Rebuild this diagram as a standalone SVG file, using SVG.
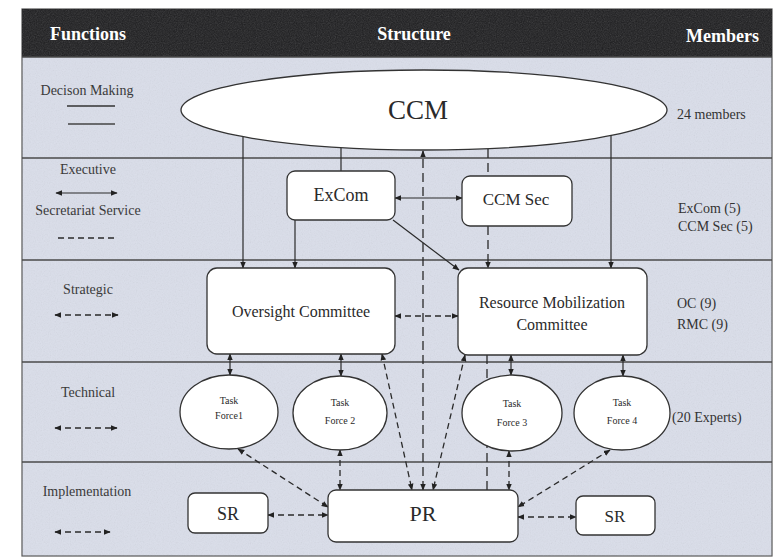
<svg xmlns="http://www.w3.org/2000/svg" width="776" height="558" viewBox="0 0 776 558">
<defs>
<style>
text{font-family:"Liberation Serif","Times New Roman",serif;fill:#2a2a2a}
.hd{font-weight:bold;font-size:18px;fill:#ffffff}
.fn{font-size:14px;text-anchor:middle;fill:#3a3a3a}
.mb{font-size:14px;fill:#333}
.lbl{text-anchor:middle}
.box{fill:#ffffff;stroke:#333;stroke-width:1.3}
.row{stroke:#4a4a4a;stroke-width:1.4;fill:none}
.sl{stroke:#2a2a2a;stroke-width:1.2;fill:none}
.dl{stroke:#2a2a2a;stroke-width:1.3;fill:none;stroke-dasharray:6 4}
.dlv{stroke:#2a2a2a;stroke-width:1.3;fill:none;stroke-dasharray:9 5}
</style>
<marker id="ah" viewBox="0 0 10 10" refX="9" refY="5" markerWidth="7" markerHeight="7" markerUnits="userSpaceOnUse" orient="auto-start-reverse">
<path d="M0,1 L10,5 L0,9 z" fill="#222"/>
</marker>
<filter id="grain" x="0" y="0" width="100%" height="100%">
<feTurbulence type="fractalNoise" baseFrequency="0.85" numOctaves="2" seed="5"/>
<feColorMatrix type="saturate" values="0"/>
</filter>
</defs>

<g id="background">
<rect x="22" y="9" width="750" height="547" fill="#dadeea" stroke="#555" stroke-width="1.2"/>
<rect x="22" y="57" width="750" height="499" filter="url(#grain)" opacity="0.14"/>
<rect x="22" y="9" width="750" height="48" fill="#1c1c1e"/>
<rect x="22" y="9" width="750" height="48" filter="url(#grain)" opacity="0.22"/>
<line class="row" x1="22" y1="57" x2="772" y2="57"/>
<line class="row" x1="22" y1="158" x2="772" y2="158"/>
<line class="row" x1="22" y1="260" x2="772" y2="260"/>
<line class="row" x1="22" y1="362" x2="772" y2="362"/>
<line class="row" x1="22" y1="462" x2="772" y2="462"/>
</g>

<g id="header">
<text class="hd" x="50" y="40">Functions</text>
<text class="hd" x="414" y="40" text-anchor="middle">Structure</text>
<text class="hd" x="759" y="42" text-anchor="end">Members</text>
</g>

<g id="functions-legend">
<text class="fn" x="87" y="95">Decison Making</text>
<line x1="67" y1="106" x2="115" y2="106" stroke="#333" stroke-width="1.6"/>
<line x1="68" y1="124" x2="115" y2="124" stroke="#444" stroke-width="1.6"/>
<text class="fn" x="88" y="174">Executive</text>
<line class="sl" x1="56" y1="193" x2="117" y2="193" marker-start="url(#ah)" marker-end="url(#ah)"/>
<text class="fn" x="88" y="215">Secretariat Service</text>
<line class="dl" x1="58" y1="238" x2="117" y2="238"/>
<text class="fn" x="88" y="294">Strategic</text>
<line class="dl" x1="55" y1="315" x2="118" y2="315" stroke-dasharray="4 3" marker-start="url(#ah)" marker-end="url(#ah)"/>
<text class="fn" x="88" y="397">Technical</text>
<line class="dl" x1="55" y1="428" x2="117" y2="428" marker-start="url(#ah)" marker-end="url(#ah)"/>
<text class="fn" x="87" y="496">Implementation</text>
<line class="dl" x1="55" y1="532" x2="110" y2="532" marker-start="url(#ah)" marker-end="url(#ah)"/>
</g>

<g id="members-column">
<text class="mb" x="677" y="119">24 members</text>
<text class="mb" x="678" y="213">ExCom (5)</text>
<text class="mb" x="678" y="231">CCM Sec (5)</text>
<text class="mb" x="677" y="308">OC (9)</text>
<text class="mb" x="677" y="329">RMC (9)</text>
<text class="mb" x="672" y="422">(20 Experts)</text>
</g>

<g id="connectors">
<line class="sl" x1="341" y1="148" x2="341" y2="171"/>
<line class="dlv" x1="423" y1="490" x2="423" y2="151" marker-start="url(#ah)" marker-end="url(#ah)"/>
<line class="dlv" x1="488" y1="149" x2="488" y2="176"/>
<line class="dlv" x1="488" y1="226" x2="488" y2="268" marker-end="url(#ah)"/>
<line class="dlv" x1="487" y1="355" x2="487" y2="490"/>
<line class="sl" x1="395" y1="198" x2="462" y2="198" marker-start="url(#ah)" marker-end="url(#ah)"/>
<line class="sl" x1="393" y1="220" x2="459" y2="270" marker-end="url(#ah)"/>
<line class="sl" x1="295" y1="220" x2="295" y2="268" marker-end="url(#ah)"/>
<line class="sl" x1="243" y1="137" x2="243" y2="268" marker-end="url(#ah)"/>
<line class="sl" x1="611" y1="135" x2="611" y2="268" marker-end="url(#ah)"/>
<line class="dl" x1="395" y1="316" x2="458" y2="316" marker-start="url(#ah)" marker-end="url(#ah)"/>
<line class="sl" x1="230" y1="354" x2="230" y2="375" marker-start="url(#ah)" marker-end="url(#ah)"/>
<line class="sl" x1="341" y1="354" x2="341" y2="376" marker-start="url(#ah)" marker-end="url(#ah)"/>
<line class="dl" x1="382" y1="354" x2="412" y2="490" marker-start="url(#ah)" marker-end="url(#ah)"/>
<line class="dl" x1="465" y1="355" x2="433" y2="490" marker-start="url(#ah)" marker-end="url(#ah)"/>
<line class="sl" x1="511" y1="355" x2="511" y2="375" marker-start="url(#ah)" marker-end="url(#ah)"/>
<line class="sl" x1="623" y1="355" x2="623" y2="376" marker-start="url(#ah)" marker-end="url(#ah)"/>
<line class="dl" x1="238" y1="449" x2="328" y2="507" marker-start="url(#ah)" marker-end="url(#ah)"/>
<line class="dl" x1="340" y1="450" x2="340" y2="490" marker-start="url(#ah)" marker-end="url(#ah)"/>
<line class="dl" x1="509" y1="451" x2="509" y2="490" marker-start="url(#ah)" marker-end="url(#ah)"/>
<line class="dl" x1="610" y1="450" x2="518" y2="507" marker-start="url(#ah)" marker-end="url(#ah)"/>
<line class="dl" x1="268" y1="515" x2="328" y2="515" marker-start="url(#ah)" marker-end="url(#ah)"/>
<line class="dl" x1="518" y1="517" x2="576" y2="517" marker-start="url(#ah)" marker-end="url(#ah)"/>
</g>

<g id="ccm">
<ellipse class="box" cx="424" cy="110" rx="243" ry="40"/>
<text class="lbl" x="418" y="119" font-size="27">CCM</text>
</g>
<g id="excom">
<rect class="box" x="287" y="171" width="108" height="49" rx="8"/>
<text class="lbl" x="341" y="201" font-size="18">ExCom</text>
</g>
<g id="ccm-sec">
<rect class="box" x="462" y="176" width="110" height="50" rx="8"/>
<text class="lbl" x="516" y="205" font-size="17">CCM Sec</text>
</g>
<g id="oversight-committee">
<rect class="box" x="207" y="268" width="188" height="86" rx="10"/>
<text class="lbl" x="301" y="317" font-size="16">Oversight Committee</text>
</g>
<g id="resource-mobilization-committee">
<rect class="box" x="458" y="268" width="189" height="87" rx="10"/>
<text class="lbl" x="552" y="308" font-size="16">Resource Mobilization</text>
<text class="lbl" x="552" y="330" font-size="16">Committee</text>
</g>
<g id="task-force-1">
<ellipse class="box" cx="229" cy="412" rx="49" ry="37"/>
<text class="lbl" x="229" y="404" font-size="10">Task</text>
<text class="lbl" x="229" y="419" font-size="10">Force1</text>
</g>
<g id="task-force-2">
<ellipse class="box" cx="340" cy="413" rx="47" ry="37"/>
<text class="lbl" x="340" y="406" font-size="10">Task</text>
<text class="lbl" x="340" y="424" font-size="10">Force 2</text>
</g>
<g id="task-force-3">
<ellipse class="box" cx="512" cy="413" rx="50" ry="38"/>
<text class="lbl" x="512" y="407" font-size="10">Task</text>
<text class="lbl" x="512" y="426" font-size="10">Force 3</text>
</g>
<g id="task-force-4">
<ellipse class="box" cx="622" cy="413" rx="48" ry="37"/>
<text class="lbl" x="622" y="406" font-size="10">Task</text>
<text class="lbl" x="622" y="424" font-size="10">Force 4</text>
</g>
<g id="pr">
<rect class="box" x="328" y="490" width="190" height="52" rx="8"/>
<text class="lbl" x="423" y="521" font-size="22">PR</text>
</g>
<g id="sr-left">
<rect class="box" x="188" y="493" width="80" height="40" rx="7"/>
<text class="lbl" x="228" y="520" font-size="18">SR</text>
</g>
<g id="sr-right">
<rect class="box" x="576" y="496" width="79" height="39" rx="7"/>
<text class="lbl" x="615" y="522" font-size="17">SR</text>
</g>
</svg>
